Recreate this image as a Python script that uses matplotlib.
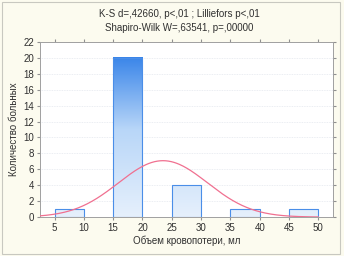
import numpy as np
import matplotlib
matplotlib.use('Agg')
import matplotlib.pyplot as plt
from matplotlib.patches import Rectangle

plt.rcParams['font.family'] = ['Liberation Sans', 'DejaVu Sans']

# histogram bins (left edges) and counts
bin_left = [5, 15, 25, 35, 45]
bin_width = 5
counts = [1, 20, 4, 1, 1]
xticks = [5, 10, 15, 20, 25, 30, 35, 40, 45, 50]
yticks = [0, 2, 4, 6, 8, 10, 12, 14, 16, 18, 20, 22]

# fitted normal curve parameters
n_total = 27
fit_mean = 23.5
fit_sd = 7.6
fit_bin = 5

title = 'K-S d=,42660, p<,01 ; Lilliefors p<,01\nShapiro-Wilk W=,63541, p=,00000'
xlabel = 'Объем кровопотери, мл'
ylabel = 'Количество больных'

fig = plt.figure(figsize=(3.44, 2.56), dpi=100)
fig.patch.set_facecolor('#fcfbef')
fig.patches.append(Rectangle((0.006, 0.008), 0.983, 0.984, transform=fig.transFigure,
                             fill=False, edgecolor='#c8c8c0', lw=0.8))
ax = fig.add_axes([0.116, 0.152, 0.852, 0.684])
ax.set_facecolor('white')

# vertical gradient, dark blue at top -> light at bottom
grad = np.linspace(0, 1, 256).reshape(-1, 1)
cmap = matplotlib.colors.LinearSegmentedColormap.from_list('g', ['#e6f0fc', '#b8d6f8', '#1f74e6'])
for x0, c in zip(bin_left, counts):
    ax.imshow(grad[:int(256 * c / 22) + 1], extent=(x0, x0 + bin_width, 0, c),
              origin='lower', aspect='auto', cmap=cmap, vmin=0, vmax=1, zorder=2)
    ax.add_patch(Rectangle((x0, 0), bin_width, c, fill=False, edgecolor='#4a8ee8', lw=0.8, zorder=3))
ax.set_xlim(2.5, 52.5)
ax.set_ylim(0, 22)

xs = np.linspace(2.5, 50, 300)
ys = n_total * fit_bin / (fit_sd * np.sqrt(2 * np.pi)) * np.exp(-0.5 * ((xs - fit_mean) / fit_sd) ** 2)
ax.plot(xs, ys, color='#f07090', lw=0.9, zorder=4)

ax.set_xticks(xticks)
ax.set_yticks(yticks)
ax.yaxis.grid(True, color='#e4e8ee', lw=0.6, ls=(0, (1, 1)))
ax.set_axisbelow(True)
ax.tick_params(labelsize=7, length=2, color='#909090', pad=2, labelcolor='#303030',
               top=True, right=True)
for s in ax.spines.values():
    s.set_color('#a0a0a0')
    s.set_linewidth(0.7)
ax.set_xlabel(xlabel, fontsize=7, labelpad=2, color='#303030')
ax.set_ylabel(ylabel, fontsize=7, labelpad=3, color='#303030')
fig.text(0.52, 0.918, title, ha='center', va='center', fontsize=7, linespacing=1.45, color='#303030')

fig.savefig('out.png', dpi=100, facecolor=fig.get_facecolor())
